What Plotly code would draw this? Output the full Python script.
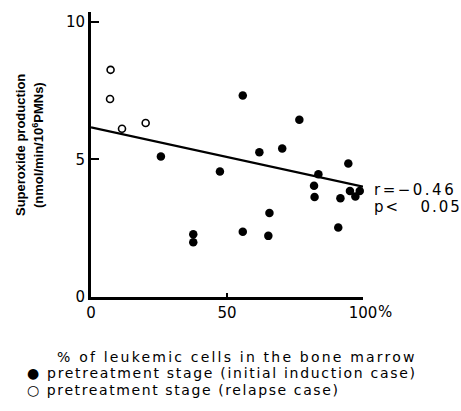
import plotly.graph_objects as go

# Data
initial_x = [25.7, 47.4, 55.8, 55.8, 61.9, 65.6, 65.2, 70.3, 76.6, 37.6, 37.6,
             82.0, 82.2, 83.6, 90.9, 91.7, 94.6, 95.2, 97.2, 98.8]
initial_y = [5.10, 4.56, 7.32, 2.37, 5.26, 3.05, 2.22, 5.39, 6.44, 2.28, 1.99,
             4.04, 3.63, 4.46, 2.52, 3.59, 4.85, 3.85, 3.65, 3.85]
relapse_x = [7.2, 7.0, 11.4, 20.1]
relapse_y = [8.25, 7.19, 6.11, 6.32]
fit_x = [0, 100]
fit_y = [6.16, 4.01]

x_tickvals = [0, 50, 100]
x_ticktext = ["0", "50", "100"]
y_tickvals = [0, 5, 10]
y_ticktext = ["0", "5", "10"]

FONT = "Liberation Sans, Arial, sans-serif"
WIDE = "DejaVu Sans, Verdana, sans-serif"


def spaced(text, ls):
    return '<span style="letter-spacing:%.1fpx">%s</span>' % (ls, text)


fig = go.Figure()
fig.add_trace(go.Scatter(x=fit_x, y=fit_y, mode="lines",
                         line=dict(color="black", width=2.2), showlegend=False,
                         cliponaxis=False))
fig.add_trace(go.Scatter(x=initial_x, y=initial_y, mode="markers",
                         marker=dict(symbol="circle", size=8.5, color="black"),
                         showlegend=False, cliponaxis=False))
fig.add_trace(go.Scatter(x=relapse_x, y=relapse_y, mode="markers",
                         marker=dict(symbol="circle-open", size=7, color="black",
                                     line=dict(width=1.6)),
                         showlegend=False, cliponaxis=False))

fig.update_xaxes(range=[0, 100], tickvals=x_tickvals, ticktext=x_ticktext,
                 showgrid=False, zeroline=False, showline=True, linecolor="black",
                 linewidth=3, ticks="inside", ticklen=4, tickwidth=2, tickcolor="black",
                 tickfont=dict(family=WIDE, size=15, color="black"))
fig.update_yaxes(range=[0, 10.35], tickvals=y_tickvals, ticktext=y_ticktext,
                 showgrid=False, zeroline=False, showline=True, linecolor="black",
                 linewidth=3, ticks="inside", ticklen=8, tickwidth=2, tickcolor="black",
                 tickfont=dict(family=WIDE, size=15, color="black"))

ann = []
ann.append(dict(x=100, y=0, xref="x", yref="y", text="%", showarrow=False,
                xanchor="left", yanchor="top", xshift=13, yshift=-4,
                font=dict(family=WIDE, size=15, color="black")))
ann.append(dict(x=20, y=145, text="<b>Superoxide production</b>",
                textangle=-90, showarrow=False, xanchor="center", yanchor="middle",
                font=dict(family=FONT, size=13, color="black")))
ann.append(dict(x=38, y=145,
                text="<b>(nmol/min/10<sup>6</sup>PMNs)</b>",
                textangle=-90, showarrow=False, xanchor="center", yanchor="middle",
                font=dict(family=FONT, size=13, color="black")))
ann.append(dict(x=372, y=190, text=spaced("r=\u22120.46", 2.5), showarrow=False, xanchor="left",
                yanchor="middle", font=dict(family=WIDE, size=15, color="black")))
ann.append(dict(x=372, y=207, text=spaced("p<\u00a0\u00a0\u00a00.05", 2.0), showarrow=False,
                xanchor="left", yanchor="middle", font=dict(family=WIDE, size=15, color="black")))
ann.append(dict(x=55, y=357, text=spaced("% of leukemic cells in the bone marrow", 2.2),
                showarrow=False, xanchor="left", yanchor="middle",
                font=dict(family=WIDE, size=14, color="black")))
ann.append(dict(x=25, y=373, text=spaced("\u25cf pretreatment stage (initial induction case)", 1.7),
                showarrow=False, xanchor="left", yanchor="middle",
                font=dict(family=WIDE, size=14, color="black")))
ann.append(dict(x=25, y=390, text=spaced("\u25cb pretreatment stage (relapse case)", 1.55),
                showarrow=False, xanchor="left", yanchor="middle",
                font=dict(family=WIDE, size=14, color="black")))

# convert pixel-placed annotations to paper coords
W, H = 461, 411
L, R, T, B = 91, 98, 12, 114
pw, ph = W - L - R, H - T - B
for a in ann:
    if "xref" not in a:
        a["xref"] = "paper"; a["yref"] = "paper"
        a["x"] = (a["x"] - L) / pw
        a["y"] = 1 - (a["y"] - T) / ph

fig.update_layout(width=W, height=H, margin=dict(l=L, r=R, t=T, b=B),
                  paper_bgcolor="white", plot_bgcolor="white", annotations=ann,
                  font=dict(family=FONT))
fig.write_html("out.html")
